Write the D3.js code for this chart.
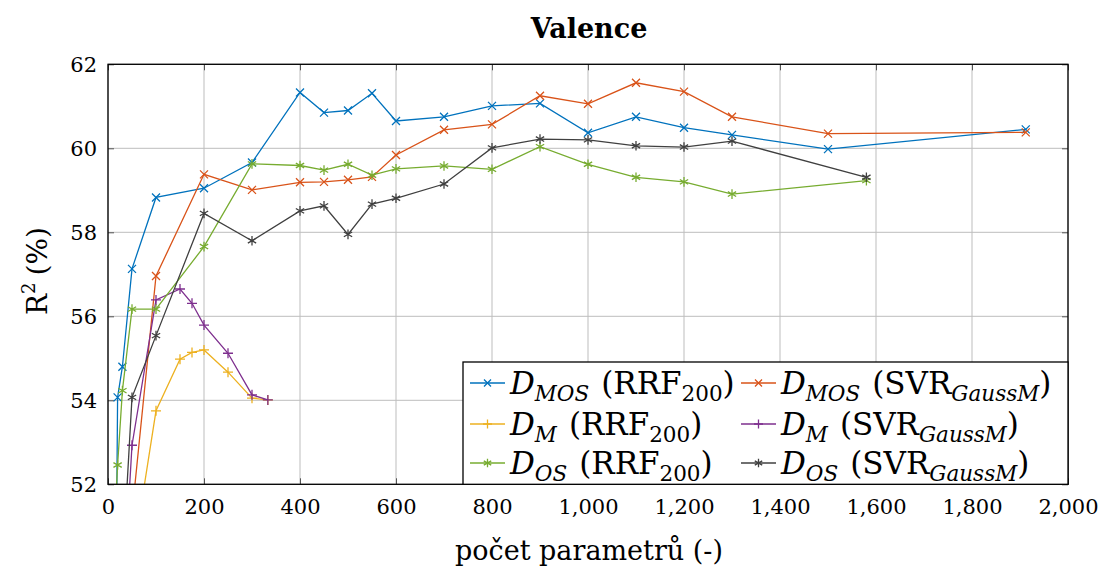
<!DOCTYPE html>
<html>
<head>
<meta charset="utf-8">
<script src="https://cdn.jsdelivr.net/npm/d3@7"></script>
<style>
  html, body { margin: 0; padding: 0; background: #fff; }
  svg { display: block; }
  text { font-family: "DejaVu Serif", "Liberation Serif", "Times New Roman", Times, serif; fill: #000; }
</style>
</head>
<body>
<svg id="chart" width="1105" height="571"></svg>
<script>
// ---------------- data ----------------
const xTicks = [0, 200, 400, 600, 800, 1000, 1200, 1400, 1600, 1800, 2000];
const yTicks = [52, 54, 56, 58, 60, 62];

const xMosRrf = [10, 20, 30, 50, 100, 200, 300, 400, 450, 500, 550, 600, 700, 800, 900, 1000, 1100, 1200, 1300, 1500, 1912];
const yMosRrf = [40.0, 54.07, 54.80, 57.13, 58.83, 59.05, 59.66, 61.33, 60.85, 60.90, 61.31, 60.65, 60.75, 61.01, 61.07, 60.37, 60.75, 60.49, 60.32, 59.98, 60.45];

const xMosSvr = [50, 100, 200, 300, 400, 450, 500, 550, 600, 700, 800, 900, 1000, 1100, 1200, 1300, 1500, 1912];
const yMosSvr = [51.3, 56.96, 59.38, 59.01, 59.19, 59.20, 59.25, 59.32, 59.84, 60.44, 60.57, 61.25, 61.06, 61.56, 61.35, 60.75, 60.35, 60.38];

const xMRrf = [50, 100, 150, 175, 200, 250, 300, 333];
const yMRrf = [50.1, 53.75, 54.98, 55.14, 55.20, 54.67, 54.05, 54.01];

const xMSvr = [30, 50, 100, 150, 175, 200, 250, 300, 333];
const yMSvr = [49.0, 52.93, 56.39, 56.65, 56.31, 55.79, 55.12, 54.13, 54.01];

const xOsRrf = [10, 20, 30, 50, 100, 200, 300, 400, 450, 500, 550, 600, 700, 800, 900, 1000, 1100, 1200, 1300, 1580];
const yOsRrf = [50.2, 52.46, 54.23, 56.17, 56.17, 57.66, 59.63, 59.59, 59.48, 59.62, 59.36, 59.51, 59.58, 59.50, 60.04, 59.62, 59.31, 59.20, 58.91, 59.23];

const xOsSvr = [30, 50, 100, 200, 300, 400, 450, 500, 550, 600, 700, 800, 900, 1000, 1100, 1200, 1300, 1580];
const yOsSvr = [50.0, 54.07, 55.54, 58.45, 57.80, 58.51, 58.63, 57.95, 58.67, 58.81, 59.15, 60.01, 60.22, 60.20, 60.06, 60.03, 60.17, 59.31];

// ---------------- build ----------------
const series = [
  {sub: "MOS", model: "RRF", xs: xMosRrf, ys: yMosRrf, color: "#0072BD", mark: "x"},
  {sub: "MOS", model: "SVR", xs: xMosSvr, ys: yMosSvr, color: "#D95319", mark: "x"},
  {sub: "M",   model: "RRF", xs: xMRrf,   ys: yMRrf,   color: "#EDB120", mark: "+"},
  {sub: "M",   model: "SVR", xs: xMSvr,   ys: yMSvr,   color: "#7E2F8E", mark: "+"},
  {sub: "OS",  model: "RRF", xs: xOsRrf,  ys: yOsRrf,  color: "#77AC30", mark: "*"},
  {sub: "OS",  model: "SVR", xs: xOsSvr,  ys: yOsSvr,  color: "#404040", mark: "*"}
];

const FONT = '"DejaVu Serif", "Liberation Serif", "Times New Roman", Times, serif';
const L = 108, R = 1068, T = 64.3, B = 484.3;
const svg = d3.select("#chart");
const x = d3.scaleLinear().domain([0, 2000]).range([L, R]);
const y = d3.scaleLinear().domain([52, 62]).range([B, T]);

// grid
const grid = svg.append("g").attr("stroke", "#bdbdbd").attr("stroke-width", 1);
grid.selectAll(".gx").data(xTicks).join("line")
  .attr("x1", d => x(d)).attr("x2", d => x(d)).attr("y1", T).attr("y2", B);
grid.selectAll(".gy").data(yTicks).join("line")
  .attr("y1", d => y(d)).attr("y2", d => y(d)).attr("x1", L).attr("x2", R);

// inner tick marks
function innerTicks(axis, tx, ty) {
  const g = svg.append("g").attr("transform", `translate(${tx},${ty})`).call(axis);
  g.select(".domain").remove();
  g.selectAll("text").remove();
  g.selectAll("line").attr("stroke", "#555").attr("stroke-width", 1);
}
innerTicks(d3.axisBottom(x).tickValues(xTicks).tickSize(-6), 0, B);
innerTicks(d3.axisTop(x).tickValues(xTicks).tickSize(-6), 0, T);
innerTicks(d3.axisLeft(y).tickValues(yTicks).tickSize(-6), L, 0);
innerTicks(d3.axisRight(y).tickValues(yTicks).tickSize(-6), R, 0);

// tick labels
const xa = svg.append("g").attr("transform", `translate(0,${B})`)
  .call(d3.axisBottom(x).tickValues(xTicks).tickFormat(d3.format(",")).tickSize(0).tickPadding(15));
xa.attr("font-family", FONT).attr("font-size", 21);
xa.select(".domain").remove();
xa.selectAll("text").attr("fill", "#000");

const ya = svg.append("g").attr("transform", `translate(${L},0)`)
  .call(d3.axisLeft(y).tickValues(yTicks).tickSize(0).tickPadding(11));
ya.attr("font-family", FONT).attr("font-size", 21);
ya.select(".domain").remove();
ya.selectAll("text").attr("fill", "#000");

// clip
svg.append("clipPath").attr("id", "clip").append("rect")
  .attr("x", L).attr("y", T).attr("width", R - L).attr("height", B - T);

function markPath(type, s) {
  if (type === "x") return `M${-s},${-s}L${s},${s}M${-s},${s}L${s},${-s}`;
  if (type === "+") return `M${-s - 1},0L${s + 1},0M0,${-s - 1}L0,${s + 1}`;
  const a = s + 0.8, c = a * Math.cos(Math.PI / 6), h = a * Math.sin(Math.PI / 6);
  return `M0,${-a}L0,${a}M${-c},${-h}L${c},${h}M${-c},${h}L${c},${-h}`;
}

const plot = svg.append("g").attr("clip-path", "url(#clip)");
const line = d3.line().x(d => x(d[0])).y(d => y(d[1]));
series.forEach(s => {
  const pts = s.xs.map((v, i) => [v, s.ys[i]]);
  plot.append("path").datum(pts).attr("d", line)
    .attr("fill", "none").attr("stroke", s.color).attr("stroke-width", 1.3);
  plot.selectAll(null).data(pts).join("path")
    .attr("transform", d => `translate(${x(d[0])},${y(d[1])})`)
    .attr("d", markPath(s.mark, 4))
    .attr("stroke", s.color).attr("stroke-width", 1.3).attr("fill", "none");
});

// frame
svg.append("rect").attr("x", L).attr("y", T).attr("width", R - L).attr("height", B - T)
  .attr("fill", "none").attr("stroke", "#000").attr("stroke-width", 1.3);

// title & labels
svg.append("text").attr("x", 589).attr("y", 38).attr("text-anchor", "middle")
  .attr("font-family", FONT).attr("font-size", 27).attr("font-weight", "bold").text("Valence");
svg.append("text").attr("x", 589).attr("y", 560).attr("text-anchor", "middle")
  .attr("font-family", FONT).attr("font-size", 27).text("počet parametrů (-)");
const yl = svg.append("text").attr("transform", "translate(47,271) rotate(-90)")
  .attr("text-anchor", "middle").attr("font-family", FONT).attr("font-size", 28);
yl.append("tspan").text("R");
yl.append("tspan").attr("dy", -12).attr("font-size", 18).text("2");
yl.append("tspan").attr("dy", 12).attr("dx", 7).text("(%)");

// legend
const lg = svg.append("g");
lg.append("rect").attr("x", 463).attr("y", 362).attr("width", R - 463).attr("height", B - 362)
  .attr("fill", "#fff").attr("stroke", "#000").attr("stroke-width", 1.3);
const colX = [470, 741];
const rowY = [383, 424, 463];
series.forEach((s, i) => {
  const cx = colX[i % 2], cy = rowY[Math.floor(i / 2)];
  lg.append("line").attr("x1", cx).attr("x2", cx + 35).attr("y1", cy).attr("y2", cy)
    .attr("stroke", s.color).attr("stroke-width", 1.3);
  lg.append("path").attr("transform", `translate(${cx + 17.5},${cy})`).attr("d", markPath(s.mark, 3.5))
    .attr("stroke", s.color).attr("stroke-width", 1.3).attr("fill", "none");
  const t = lg.append("text").attr("x", cx + 40).attr("y", cy + 11)
    .attr("font-family", FONT).attr("font-size", 31);
  t.append("tspan").attr("font-style", "italic").text("D");
  t.append("tspan").attr("dy", 7).attr("font-style", "italic").attr("font-size", 21.5).text(s.sub);
  if (s.model === "RRF") {
    t.append("tspan").attr("dy", -7).attr("dx", 12).text("(RRF");
    t.append("tspan").attr("dy", 7).attr("font-size", 21.5).text("200");
    t.append("tspan").attr("dy", -7).text(")");
  } else {
    t.append("tspan").attr("dy", -7).attr("dx", 12).text("(SVR");
    t.append("tspan").attr("dy", 7).attr("font-size", 21.5).attr("font-style", "italic").text("GaussM");
    t.append("tspan").attr("dy", -7).text(")");
  }
});
</script>
</body>
</html>
